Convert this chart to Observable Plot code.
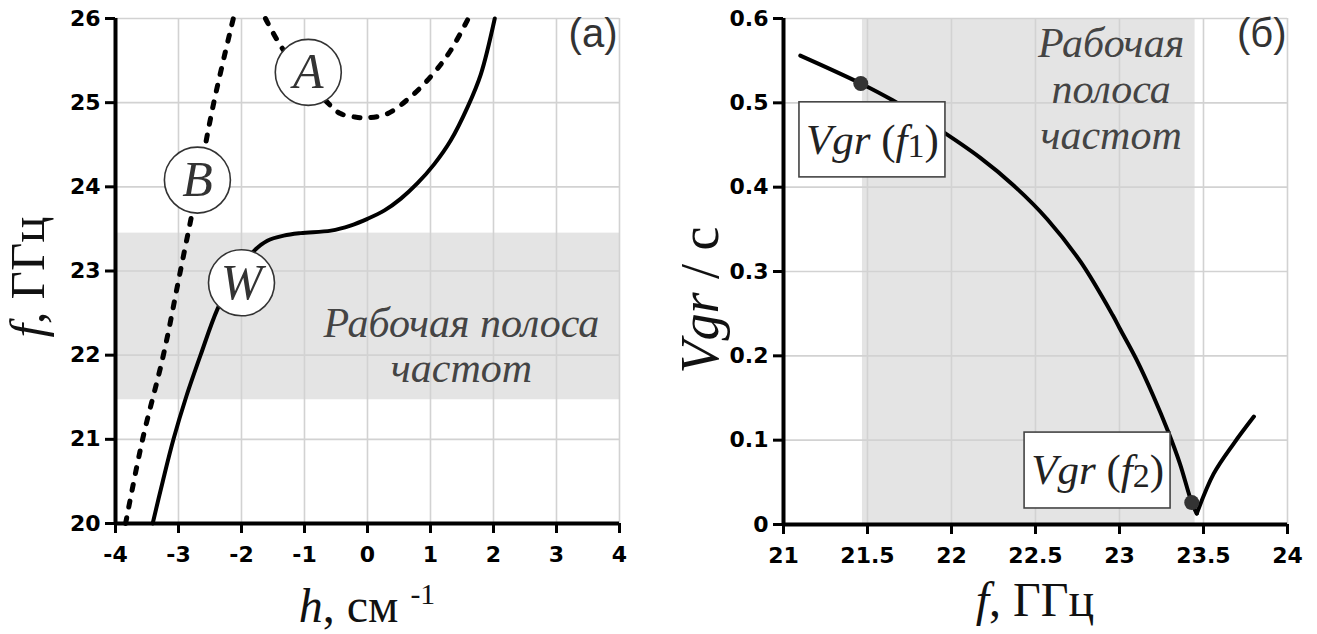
<!DOCTYPE html>
<html><head><meta charset="utf-8">
<script src="https://cdn.jsdelivr.net/npm/d3@7"></script>
<script src="https://cdn.jsdelivr.net/npm/@observablehq/plot@0.6"></script>
<style>
body{margin:0;background:#fff;}
#wrap{display:flex;width:1317px;height:634px;overflow:hidden;}
svg{overflow:visible;flex:none;}
</style></head><body><div id="wrap"></div>
<script>
// ---- Panel (а): dispersion f(h)
const hTicks = [-4, -3, -2, -1, 0, 1, 2, 3, 4];
const fTicksA = [20, 21, 22, 23, 24, 25, 26];
// working wave W (solid)
const wH = [-3.41, -3.25, -3.08, -2.88, -2.65, -2.38, -2.1, -1.8, -1.59, -1.33, -1.06, -0.58, -0.27, 0, 0.27, 0.53, 0.79, 1.06, 1.32, 1.59, 1.8, 2.02];
const wF = [20, 20.5, 21, 21.5, 22, 22.55, 22.95, 23.24, 23.36, 23.42, 23.45, 23.48, 23.54, 23.62, 23.72, 23.86, 24.04, 24.27, 24.55, 24.95, 25.34, 26];
// beam line B (dashed)
const bH = [-3.84, -3.57, -3.24, -2.97, -2.7, -2.44, -2.13];
const bF = [20, 21, 22, 23, 24, 25, 26];
// mode A (dashed)
const aH = [-1.62, -1.33, -0.94, -0.62, -0.43, -0.2, 0, 0.32, 0.73, 1.05, 1.32, 1.6];
const aF = [26, 25.62, 25.28, 24.99, 24.87, 24.83, 24.82, 24.87, 25.1, 25.35, 25.62, 26];
// circle labels
const curveNames = ["A", "B", "W"];
const curveLabelH = [-0.94, -2.7, -2.0];
const curveLabelF = [25.36, 24.08, 22.86];
// working band
const bandLow = 21.47, bandHigh = 23.45;
const bandText = "Рабочая полоса\nчастот";

// ---- Panel (б): group velocity
const fTicksB = [21, 21.5, 22, 22.5, 23, 23.5, 24];
const vTicks = [0, 0.1, 0.2, 0.3, 0.4, 0.5, 0.6];
const vFallF = [21.1, 21.46, 21.65, 21.9, 22.17, 22.37, 22.57, 22.77, 22.96, 23.0, 23.1, 23.2, 23.29, 23.36, 23.43, 23.46];
const vFallV = [0.556, 0.523, 0.503, 0.472, 0.435, 0.402, 0.362, 0.311, 0.248, 0.233, 0.196, 0.153, 0.11, 0.072, 0.026, 0.013];
const vRiseF = [23.46, 23.56, 23.68, 23.8];
const vRiseV = [0.013, 0.06, 0.096, 0.128];
const markF = [21.46, 23.43];
const markV = [0.523, 0.026];
const markText = ["Vgr (f1)", "Vgr (f2)"];
const boxF1 = [21.095, 22.435], boxF2 = [21.964, 23.304];
const boxV1 = [0.4116, 0.019], boxV2 = [0.5006, 0.109];
const bandText2 = "Рабочая\nполоса\nчастот";

const zip = (xs, ys, kx, ky) => xs.map((v, i) => ({[kx]: v, [ky]: ys[i]}));
const serif = "Liberation Serif, Times New Roman, serif";
const sans = "Liberation Sans, Arial, sans-serif";
const tickFont = "DejaVu Sans, Verdana, sans-serif";
const gridStyle = {stroke: "#d2d2d2", strokeOpacity: 1, strokeWidth: 1.6};
const axisStyle = {tickSize: 10, strokeWidth: 3, fontSize: 22, fontWeight: "bold", fontFamily: tickFont, color: "black", label: null, tickFormat: d => String(d)};
const dashed = {stroke: "black", strokeWidth: 5, strokeDasharray: "6,11", strokeLinecap: "round", curve: "catmull-rom"};

const left = Plot.plot({
  width: 658, height: 634,
  marginLeft: 115, marginRight: 39, marginTop: 18, marginBottom: 111,
  x: {domain: [-4, 4]},
  y: {domain: [20, 26]},
  style: {background: "white", overflow: "visible"},
  marks: [
    Plot.rectY([0], {x1: -4, x2: 4, y1: bandLow, y2: bandHigh, fill: "#e4e4e4"}),
    Plot.gridX(hTicks, gridStyle),
    Plot.gridY(fTicksA, gridStyle),
    Plot.text([bandText], {x: 1.49, y: 22.12, text: d => d, fontFamily: serif, fontStyle: "italic", fontSize: 42, fill: "#444", lineHeight: 1.08}),
    Plot.line(zip(bH, bF, "h", "f"), {x: "h", y: "f", ...dashed}),
    Plot.line(zip(aH, aF, "h", "f"), {x: "h", y: "f", ...dashed}),
    Plot.line(zip(wH, wF, "h", "f"), {x: "h", y: "f", stroke: "black", strokeWidth: 4, curve: "catmull-rom"}),
    Plot.dot(curveNames, {x: (d, i) => curveLabelH[i], y: (d, i) => curveLabelF[i], r: 33, fill: "white", stroke: "#333", strokeWidth: 1.6}),
    Plot.text(curveNames, {x: (d, i) => curveLabelH[i], y: (d, i) => curveLabelF[i], text: d => d, fontFamily: serif, fontStyle: "italic", fontSize: 50, fill: "#333"}),
    Plot.text(["(а)"], {frameAnchor: "top-right", textAnchor: "end", lineAnchor: "top", dx: -2, dy: 0, fontFamily: sans, fontSize: 40, fill: "#333"}),
    Plot.axisX({ticks: hTicks, tickPadding: 13, ...axisStyle}),
    Plot.axisY({ticks: fTicksA, tickPadding: 5, ...axisStyle}),
    Plot.ruleX([-4], {stroke: "black", strokeWidth: 4}),
    Plot.ruleY([20], {stroke: "black", strokeWidth: 4})
  ]
});

const right = Plot.plot({
  width: 659, height: 634,
  marginLeft: 125, marginRight: 30, marginTop: 18, marginBottom: 110,
  x: {domain: [21, 24]},
  y: {domain: [0, 0.6]},
  style: {background: "white", overflow: "visible"},
  marks: [
    Plot.rectX([0], {x1: bandLow, x2: bandHigh, y1: 0, y2: 0.6, fill: "#e4e4e4"}),
    Plot.gridX(fTicksB, gridStyle),
    Plot.gridY(vTicks, gridStyle),
    Plot.text([bandText2], {x: 22.95, y: 0.517, text: d => d, fontFamily: serif, fontStyle: "italic", fontSize: 42, fill: "#444", lineHeight: 1.1}),
    Plot.line(zip(vFallF, vFallV, "f", "v"), {x: "f", y: "v", stroke: "black", strokeWidth: 4, curve: "catmull-rom"}),
    Plot.line(zip(vRiseF, vRiseV, "f", "v"), {x: "f", y: "v", stroke: "black", strokeWidth: 4, curve: "catmull-rom"}),
    Plot.dot(markText, {x: (d, i) => markF[i], y: (d, i) => markV[i], r: 7.5, fill: "#333", stroke: "none"}),
    Plot.rect(markText, {x1: (d, i) => boxF1[i], x2: (d, i) => boxF2[i], y1: (d, i) => boxV1[i], y2: (d, i) => boxV2[i], fill: "white", stroke: "#444", strokeWidth: 1.6}),
    Plot.text(markText, {x: (d, i) => (boxF1[i] + boxF2[i]) / 2, y: (d, i) => (boxV1[i] + boxV2[i]) / 2, text: d => d, fontFamily: serif, fontSize: 43, fill: "#222"}),
    Plot.text(["(б)"], {frameAnchor: "top-right", textAnchor: "end", lineAnchor: "top", dx: -1, dy: 0, fontFamily: sans, fontSize: 40, fill: "#333"}),
    Plot.axisX({ticks: fTicksB, tickPadding: 13, ...axisStyle}),
    Plot.axisY({ticks: vTicks, tickPadding: 5, ...axisStyle}),
    Plot.ruleX([21], {stroke: "black", strokeWidth: 4}),
    Plot.ruleY([0], {stroke: "black", strokeWidth: 4})
  ]
});

function rich(svg, map) {
  d3.select(svg).selectAll("text").each(function () {
    const parts = map[this.textContent];
    if (!parts) return;
    const sel = d3.select(this);
    sel.text(null);
    for (const [t, it, small] of parts) {
      const ts = sel.append("tspan").text(t);
      if (it) ts.attr("font-style", "italic");
      if (small === 1) ts.attr("font-size", 34).attr("dy", 3);
      if (small === 2) ts.attr("font-size", 43).attr("dy", -3);
    }
  });
}
rich(right, {
  "Vgr (f1)": [["Vgr", 1], [" (", 0], ["f", 1], ["1", 0, 1], [")", 0, 2]],
  "Vgr (f2)": [["Vgr", 1], [" (", 0], ["f", 1], ["2", 0, 1], [")", 0, 2]]
});

function addLabel(svg, x, y, rot, parts, size) {
  const t = d3.select(svg).append("text")
    .attr("transform", `translate(${x},${y})` + (rot ? ` rotate(${rot})` : ""))
    .attr("text-anchor", "middle")
    .attr("font-family", serif)
    .attr("font-size", size)
    .attr("fill", "#111");
  for (const [s, it, sup] of parts) {
    const ts = t.append("tspan").text(s);
    if (it) ts.attr("font-style", "italic");
    if (sup) ts.attr("font-size", size * 0.62).attr("dy", -size * 0.38);
  }
}
addLabel(left, 367, 622, 0, [["h", 1], [", см ", 0], ["-1", 0, 1]], 48);
addLabel(left, 44, 277, -90, [["f", 1], [", ГГц", 0]], 49);
addLabel(right, 377, 616, 0, [["f", 1], [", ГГц", 0]], 48);
addLabel(right, 60, 300, -90, [["Vgr", 1], [" / с", 0]], 54);

document.getElementById("wrap").append(left, right);
</script></body></html>
